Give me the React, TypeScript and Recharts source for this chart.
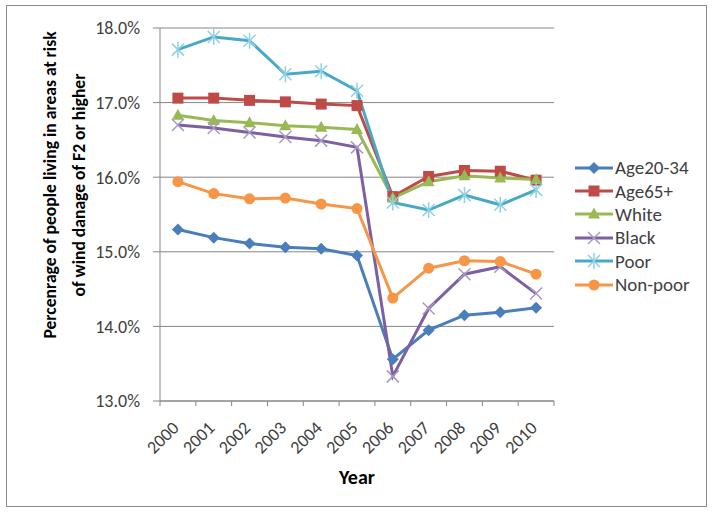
import { LineChart, Line, XAxis, YAxis, CartesianGrid } from "recharts";

const years = ["2000", "2001", "2002", "2003", "2004", "2005", "2006", "2007", "2008", "2009", "2010"];

const age2034 = [15.3, 15.19, 15.11, 15.06, 15.04, 14.95, 13.56, 13.95, 14.15, 14.19, 14.25];
const age65 = [17.06, 17.06, 17.03, 17.01, 16.98, 16.96, 15.74, 16.01, 16.09, 16.08, 15.96];
const white = [16.83, 16.76, 16.73, 16.69, 16.67, 16.64, 15.72, 15.94, 16.02, 15.99, 15.97];
const black = [16.7, 16.66, 16.6, 16.54, 16.49, 16.4, 13.33, 14.24, 14.7, 14.8, 14.44];
const poor = [17.71, 17.88, 17.83, 17.38, 17.42, 17.16, 15.66, 15.56, 15.76, 15.63, 15.83];
const nonPoor = [15.94, 15.78, 15.71, 15.72, 15.64, 15.58, 14.38, 14.78, 14.88, 14.87, 14.7];

const yTicks = [13, 14, 15, 16, 17, 18];

type Shape = "diamond" | "square" | "triangle" | "x" | "star" | "circle";

const series: { key: string; name: string; values: number[]; color: string; mark: string; shape: Shape }[] = [
  { key: "a", name: "Age20-34", values: age2034, color: "#4a7ebb", mark: "#4a7ebb", shape: "diamond" },
  { key: "b", name: "Age65+", values: age65, color: "#be4b48", mark: "#be4b48", shape: "square" },
  { key: "c", name: "White", values: white, color: "#98b954", mark: "#98b954", shape: "triangle" },
  { key: "d", name: "Black", values: black, color: "#7d60a0", mark: "#a898c4", shape: "x" },
  { key: "e", name: "Poor", values: poor, color: "#46aac5", mark: "#8fd0e2", shape: "star" },
  { key: "f", name: "Non-poor", values: nonPoor, color: "#f79646", mark: "#f79646", shape: "circle" },
];

const data = years.map((year, i) => {
  const row: Record<string, string | number> = { year };
  series.forEach((s) => {
    row[s.key] = s.values[i];
  });
  return row;
});

const font = "Carlito, Calibri, 'Liberation Sans', sans-serif";

function Marker({ cx, cy, shape, color }: { cx: number; cy: number; shape: Shape; color: string }) {
  switch (shape) {
    case "diamond":
      return <polygon points={`${cx},${cy - 6} ${cx + 6},${cy} ${cx},${cy + 6} ${cx - 6},${cy}`} fill={color} />;
    case "square":
      return <rect x={cx - 5.5} y={cy - 5.5} width={11} height={11} fill={color} />;
    case "triangle":
      return <polygon points={`${cx},${cy - 6.5} ${cx + 6},${cy + 4.5} ${cx - 6},${cy + 4.5}`} fill={color} />;
    case "x":
      return (
        <g stroke={color} strokeWidth={1.5}>
          <line x1={cx - 6} y1={cy - 6} x2={cx + 6} y2={cy + 6} />
          <line x1={cx - 6} y1={cy + 6} x2={cx + 6} y2={cy - 6} />
        </g>
      );
    case "star":
      return (
        <g stroke={color} strokeWidth={1.5}>
          <line x1={cx - 6} y1={cy - 6} x2={cx + 6} y2={cy + 6} />
          <line x1={cx - 6} y1={cy + 6} x2={cx + 6} y2={cy - 6} />
          <line x1={cx} y1={cy - 8} x2={cx} y2={cy + 8} />
        </g>
      );
    default:
      return <circle cx={cx} cy={cy} r={5.5} fill={color} />;
  }
}

function XTick(props: any) {
  const { x, y, payload, index } = props;
  const half = payload && payload.offset ? payload.offset : 17.9;
  return (
    <g>
      <line x1={x - half} y1={y - 8} x2={x - half} y2={y - 3} stroke="#868686" />
      {index === years.length - 1 && <line x1={x + half} y1={y - 8} x2={x + half} y2={y - 3} stroke="#868686" />}
      <text
        x={x + 2}
        y={y + 20}
        textAnchor="end"
        transform={`rotate(-45, ${x + 2}, ${y + 20})`}
        fontSize={18}
        fill="#404040"
        fontFamily={font}
      >
        {payload.value}
      </text>
    </g>
  );
}

function YLabel() {
  return (
    <g fontFamily={font} fontWeight="bold" fontSize={17.6} fill="#000">
      <text x={56} y={185} textAnchor="middle" transform="rotate(-90, 56, 185)">
        Percenrage of people living in areas at risk
      </text>
      <text x={85} y={185} textAnchor="middle" transform="rotate(-90, 85, 185)">
        of wind danage of F2 or higher
      </text>
    </g>
  );
}

export default function App() {
  return (
    <div style={{ position: "absolute", left: 0, top: 0, width: 712, height: 512, background: "#fff" }}>
      <div
        style={{
          position: "absolute",
          left: 6,
          top: 5,
          width: 699,
          height: 500,
          border: "1px solid #8c8c8c",
        }}
      />
      <LineChart
        width={712}
        height={512}
        data={data}
        margin={{ top: 28, right: 158, bottom: 0, left: 0 }}
        style={{ position: "absolute", left: 0, top: 0 }}
      >
        <CartesianGrid vertical={false} stroke="#868686" />
        <XAxis
          dataKey="year"
          scale="band"
          height={111}
          stroke="#868686"
          tickLine={false}
          interval={0}
          tick={<XTick />}
          label={{ value: "Year", position: "insideBottom", offset: 28, fontFamily: font, fontWeight: "bold", fontSize: 20, fill: "#000" }}
        />
        <YAxis
          width={160}
          domain={[13, 18]}
          ticks={yTicks}
          interval={0}
          stroke="#868686"
          tickSize={7}
          tickMargin={13}
          tickFormatter={(v: number) => `${v.toFixed(1)}%`}
          tick={{ fontSize: 18, fill: "#404040", fontFamily: font }}
          label={<YLabel />}
        />
        {series.map((s) => (
          <Line
            key={s.key}
            dataKey={s.key}
            name={s.name}
            stroke={s.color}
            strokeWidth={3}
            isAnimationActive={false}
            dot={(p: any) => <Marker key={`${s.key}-${p.index}`} cx={p.cx} cy={p.cy} shape={s.shape} color={s.mark} />}
            activeDot={false}
          />
        ))}
      </LineChart>
      <div style={{ position: "absolute", left: 575, top: 156, fontFamily: font, fontSize: 19, color: "#404040" }}>
        {series.map((s) => (
          <div key={s.key} style={{ display: "flex", alignItems: "center", height: 23.4 }}>
            <svg width={38} height={16} style={{ marginRight: 2 }}>
              <line x1={0} y1={8} x2={38} y2={8} stroke={s.color} strokeWidth={3} />
              <Marker cx={19} cy={8} shape={s.shape} color={s.mark} />
            </svg>
            <span>{s.name}</span>
          </div>
        ))}
      </div>
    </div>
  );
}
